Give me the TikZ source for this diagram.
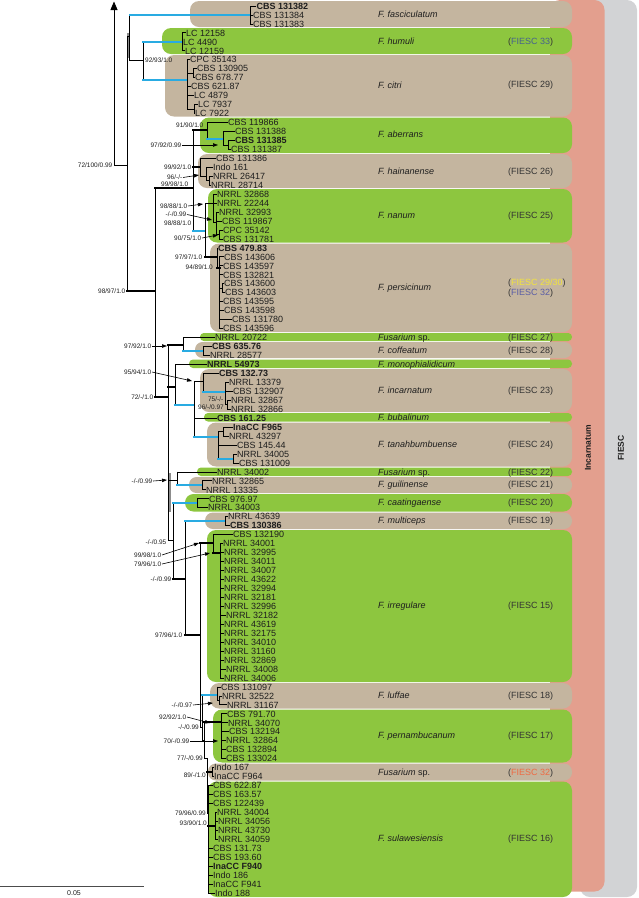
\documentclass[tikz,border=0pt]{standalone}
\usepackage{fontspec}
\setmainfont{Liberation Sans}
\usetikzlibrary{arrows.meta}
\definecolor{tanc}{HTML}{C4B59F}
\definecolor{grnc}{HTML}{8DC63F}
\definecolor{salm}{HTML}{E39F8E}
\definecolor{grayb}{HTML}{D2D3D5}
\definecolor{brb}{HTML}{29ABE2}
\definecolor{txt}{HTML}{1E1E1E}
\definecolor{fitxt}{HTML}{333333}
\definecolor{fblue}{HTML}{45618F}
\definecolor{fyel}{HTML}{F2E43C}
\definecolor{fpur}{HTML}{5A5DA6}
\definecolor{fora}{HTML}{EE6A43}
\newcommand{\tb}[3][]{\draw[brn] (#2) -- (#2 |- #3); \draw[brn,#1] (#2 |- #3) -- (#3);}
\newcommand{\spbox}[5]{\fill[#1,rounded corners=#5] (#2,#3) rectangle (572,#4);}
\begin{document}
\begin{tikzpicture}[x=1pt,y=-1pt,
  brn/.style={line width=0.8pt, black, line cap=rect},
  tkb/.style={line width=2pt},
  blb/.style={line width=2pt, brb},
  leafn/.style={anchor=west, inner sep=0.5pt, font=\fontsize{9}{9}\selectfont, text=txt, text height=6.4pt, text depth=0pt},
  supn/.style={anchor=east, inner sep=0.5pt, font=\fontsize{6.5}{6.5}\selectfont, text=txt, text height=4.6pt, text depth=0pt},
  spn/.style={anchor=west, inner sep=0pt, font=\fontsize{9}{9}\selectfont\itshape, text=txt, text height=6.4pt, text depth=0pt},
  fin/.style={anchor=west, inner sep=0pt, font=\fontsize{9}{9}\selectfont, text=fitxt, text height=6.4pt, text depth=0pt},
  arrn/.style={line width=0.6pt, black, -{Triangle[width=3.5pt,length=5pt]}},
]
\useasboundingbox (0,0) rectangle (638,898);
% bands
\fill[grayb, rounded corners=10] (580,0) rectangle (637,897);
\fill[salm, rounded corners=10] (550,0) rectangle (604.5,891.5);
\node[rotate=90, font=\fontsize{8.5}{8.5}\selectfont\bfseries, text=txt] (inc) at (588,448) {Incarnatum};
\node[rotate=90, font=\fontsize{8.5}{8.5}\selectfont\bfseries, text=txt] (fiesc) at (621,448) {FIESC};
% species boxes
\spbox{tanc}{190}{1}{27}{9}
\spbox{grnc}{162}{28}{54}{9}
\spbox{tanc}{165}{55}{116.5}{9}
\spbox{grnc}{200}{117.5}{153}{9}
\spbox{tanc}{198}{154}{188}{9}
\spbox{grnc}{208}{189}{242.5}{9}
\spbox{tanc}{210}{243.5}{332}{9}
\spbox{grnc}{200}{333}{341}{3.8}
\spbox{tanc}{195}{342}{358}{7.5}
\spbox{grnc}{189}{359.5}{368}{4}
\spbox{tanc}{200}{369}{412}{9}
\spbox{grnc}{204}{413}{421.5}{4}
\spbox{tanc}{207}{422.5}{466.5}{9}
\spbox{grnc}{197}{467.5}{476}{4}
\spbox{tanc}{189}{477}{493}{7.5}
\spbox{grnc}{185}{494}{511.5}{8.5}
\spbox{tanc}{205}{512.5}{529}{8}
\spbox{grnc}{207}{530}{682}{9}
\spbox{tanc}{210}{683}{708.5}{9}
\spbox{grnc}{213}{709.5}{762.5}{9}
\spbox{tanc}{208}{763.5}{780.5}{8}
\spbox{grnc}{208}{781.5}{897}{9}
% species labels
\node[spn] (sp1) at (378,14) {F. fasciculatum};
\node[spn] (sp2) at (378,41) {F. humuli};
\node[spn] (sp3) at (378,85) {F. citri};
\node[spn] (sp4) at (378,134) {F. aberrans};
\node[spn] (sp5) at (378,171) {F. hainanense};
\node[spn] (sp6) at (378,215) {F. nanum};
\node[spn] (sp7) at (378,287) {F. persicinum};
\node[spn] (sp8) at (378,337) {Fusarium \textup{sp.}};
\node[spn] (sp9) at (378,350) {F. coffeatum};
\node[spn] (sp10) at (378,364) {F. monophialidicum};
\node[spn] (sp11) at (378,390) {F. incarnatum};
\node[spn] (sp12) at (378,417) {F. bubalinum};
\node[spn] (sp13) at (378,444) {F. tanahbumbuense};
\node[spn] (sp14) at (378,472) {Fusarium \textup{sp.}};
\node[spn] (sp15) at (378,484.5) {F. guilinense};
\node[spn] (sp16) at (378,502) {F. caatingaense};
\node[spn] (sp17) at (378,520) {F. multiceps};
\node[spn] (sp18) at (378,605) {F. irregulare};
\node[spn] (sp19) at (378,695) {F. luffae};
\node[spn] (sp20) at (378,735) {F. pernambucanum};
\node[spn] (sp21) at (378,772) {Fusarium \textup{sp.}};
\node[spn] (sp22) at (378,838) {F. sulawesiensis};
% FIESC labels
\node[fin] (fi2) at (508,41) {(\textcolor{fblue}{FIESC 33})};
\node[fin] (fi3) at (508,84) {(FIESC 29)};
\node[fin] (fi5) at (508,171) {(FIESC 26)};
\node[fin] (fi6) at (508,215) {(FIESC 25)};
\node[fin] (fi7a) at (508,282) {(\textcolor{fyel}{FIESC 29/30})};
\node[fin] (fi7b) at (508,292) {(\textcolor{fpur}{FIESC 32})};
\node[fin] (fi8) at (508,337) {(FIESC 27)};
\node[fin] (fi9) at (508,350) {(FIESC 28)};
\node[fin] (fi11) at (508,390) {(FIESC 23)};
\node[fin] (fi13) at (508,444) {(FIESC 24)};
\node[fin] (fi14) at (508,472) {(FIESC 22)};
\node[fin] (fi15) at (508,484.5) {(FIESC 21)};
\node[fin] (fi16) at (508,502) {(FIESC 20)};
\node[fin] (fi17) at (508,520) {(FIESC 19)};
\node[fin] (fi18) at (508,605) {(FIESC 15)};
\node[fin] (fi19) at (508,695) {(FIESC 18)};
\node[fin] (fi20) at (508,735) {(FIESC 17)};
\node[fin] (fi21) at (508,772) {(\textcolor{fora}{FIESC 32})};
\node[fin] (fi22) at (508,838) {(FIESC 16)};
% leaves
\foreach \i/\x/\t in {
1/256.5/{\textbf{CBS 131382}}, 2/253/{CBS 131384}, 3/253/{CBS 131383},
4/186/{LC 12158}, 5/183/{LC 4490}, 6/185/{LC 12159},
7/190/{CPC 35143}, 8/197/{CBS 130905}, 9/195/{CBS 678.77}, 10/191/{CBS 621.87},
11/194/{LC 4879}, 12/198/{LC 7937}, 13/195/{LC 7922},
14/228/{CBS 119866}, 15/235/{CBS 131388}, 16/235/{\textbf{CBS 131385}}, 17/231/{CBS 131387},
18/216/{CBS 131386}, 19/213/{Indo 161}, 20/213/{NRRL 26417}, 21/211/{NRRL 28714},
22/217/{NRRL 32868}, 23/217/{NRRL 22244}, 24/219/{NRRL 32993}, 25/222/{CBS 119867},
26/223/{CPC 35142}, 27/223/{CBS 131781},
28/218/{\textbf{CBS 479.83}}, 29/224/{CBS 143606}, 30/223/{CBS 143597}, 31/223/{CBS 132821},
32/224/{CBS 143600}, 33/225/{CBS 143603}, 34/223/{CBS 143595}, 35/224/{CBS 143598},
36/232/{CBS 131780}, 37/223/{CBS 143596},
38/215/{NRRL 20722}, 39/212/{\textbf{CBS 635.76}}, 40/210/{NRRL 28577},
41/207/{\textbf{NRRL 54973}}, 42/219/{\textbf{CBS 132.73}}, 43/229/{NRRL 13379},
44/233/{CBS 132907}, 45/231/{NRRL 32867}, 46/231/{NRRL 32866},
47/217/{\textbf{CBS 161.25}}, 48/233/{\textbf{InaCC F965}}, 49/229/{NRRL 43297},
50/237/{CBS 145.44}, 51/237/{NRRL 34005}, 52/239/{CBS 131009},
53/217/{NRRL 34002}, 54/212/{NRRL 32865}, 55/206/{NRRL 13335},
56/209/{CBS 976.97}, 57/208/{NRRL 34003}, 58/228/{NRRL 43639}, 59/230/{\textbf{CBS 130386}},
60/233/{CBS 132190}, 61/223/{NRRL 34001}, 62/224/{NRRL 32995}, 63/224/{NRRL 34011},
64/224/{NRRL 34007}, 65/224/{NRRL 43622}, 66/224/{NRRL 32994}, 67/224/{NRRL 32181},
68/224/{NRRL 32996}, 69/226/{NRRL 32182}, 70/224/{NRRL 43619}, 71/224/{NRRL 32175},
72/224/{NRRL 34010}, 73/224/{NRRL 31160}, 74/224/{NRRL 32869}, 75/226/{NRRL 34008},
76/224/{NRRL 34006}, 77/221/{CBS 131097}, 78/222/{NRRL 32522}, 79/227/{NRRL 31167},
80/227/{CBS 791.70}, 81/228/{NRRL 34070}, 82/229/{CBS 132194}, 83/226/{NRRL 32864},
84/226/{CBS 132894}, 85/226/{CBS 133024}, 86/214/{Indo 167}, 87/214/{InaCC F964},
88/213/{CBS 622.87}, 89/213/{CBS 163.57}, 90/213/{CBS 122439}, 91/217/{NRRL 34004},
92/218/{NRRL 34056}, 93/218/{NRRL 43730}, 94/218/{NRRL 34059}, 95/213/{CBS 131.73},
96/213/{CBS 193.60}, 97/213/{\textbf{InaCC F940}}, 98/213/{Indo 186}, 99/213/{InaCC F941},
100/215/{Indo 188}}
{\node[leafn] (l\i) at (\x-0.5,{6+(\i-1)*8.96}) {\t};}
% internal nodes
\coordinate (rt) at (114,165); \coordinate (atip) at (114,1.5); \coordinate (R) at (127,165);
\coordinate (A) at (129.5,36); \coordinate (nF) at (250,15); \coordinate (HC) at (143,60);
\coordinate (nHu) at (182,41.8); \coordinate (nCi) at (187,80); \coordinate (nC1) at (193,73.2); \coordinate (nC2) at (194,109);
\coordinate (B) at (155,291); \coordinate (C) at (193,188);
\coordinate (nAb) at (207,130); \coordinate (nAb1) at (223,139); \coordinate (nAb2) at (228,144.9);
\coordinate (nH) at (200,167); \coordinate (nH1) at (206,176); \coordinate (nH2) at (209,180.7);
\coordinate (nNP) at (205,231); \coordinate (nN) at (213,203); \coordinate (nN1) at (216,222); \coordinate (nN2) at (219.5,234.5);
\coordinate (nP) at (217,257); \coordinate (nP1) at (219.5,268); \coordinate (nP2) at (222,288.2);
\coordinate (D) at (168,397); \coordinate (Q) at (183,345); \coordinate (nCof) at (203,351);
\coordinate (Rn) at (175,387); \coordinate (S) at (194,405); \coordinate (nI) at (203,381);
\coordinate (nI1) at (225,392); \coordinate (nI2) at (227.5,404.7);
\coordinate (nT) at (218,437); \coordinate (nT1) at (223,431.6); \coordinate (nT2) at (233,458.5);
\coordinate (V) at (177,480); \coordinate (nG) at (202,485.4); \coordinate (W) at (173,540);
\coordinate (nCa) at (197,503.3); \coordinate (E) at (185,579); \coordinate (nMu) at (225,521.2);
\coordinate (F) at (200,635); \coordinate (nIr) at (213,543); \coordinate (nIr1) at (220,553);
\coordinate (F2) at (202,727); \coordinate (nLu) at (217,695); \coordinate (nLu1) at (219,700.4);
\coordinate (F3) at (204,740); \coordinate (nPe) at (221,722); \coordinate (F4) at (207,758);
\coordinate (nFs) at (212,772); \coordinate (nSu) at (208,813); \coordinate (nSu1) at (215,825.8);
% gray overlays
\draw[black!45, line width=2.4pt] (128,33) -- (128,58);
\draw[black!45, line width=1.6pt] (170,473) -- (170,512);
% edges
\draw[brn] (rt) -- (R);
\draw[brn, -{Triangle[width=7pt,length=8.5pt]}] (rt) -- (atip);
\tb{R}{A} \tb[tkb]{R}{B}
\tb[blb]{A}{nF} \tb{A}{HC}
\foreach \c in {1,2,3} {\tb{nF}{l\c.west}}
\tb[blb]{HC}{nHu} \tb[blb]{HC}{nCi}
\foreach \c in {4,5,6} {\tb{nHu}{l\c.west}}
\tb{nCi}{l7.west} \tb{nCi}{nC1} \tb{nCi}{l10.west} \tb{nCi}{l11.west} \tb{nCi}{nC2}
\tb{nC1}{l8.west} \tb{nC1}{l9.west} \tb{nC2}{l12.west} \tb{nC2}{l13.west}
\tb[tkb]{B}{C} \tb[tkb]{B}{D}
\tb[tkb]{C}{nAb} \tb[tkb]{C}{nH} \tb[blb]{C}{nNP}
\tb{nAb}{l14.west} \tb[blb]{nAb}{nAb1} \tb{nAb1}{l15.west} \tb{nAb1}{nAb2} \tb{nAb2}{l16.west} \tb{nAb2}{l17.west}
\tb{nH}{l18.west} \tb{nH}{nH1} \tb{nH1}{l19.west} \tb{nH1}{nH2} \tb{nH2}{l20.west} \tb{nH2}{l21.west}
\tb{nNP}{nN} \tb[tkb]{nNP}{nP}
\tb{nN}{l22.west} \tb{nN}{l23.west} \tb{nN}{nN1} \tb{nN1}{l24.west} \tb{nN1}{l25.west} \tb{nN1}{nN2} \tb{nN2}{l26.west} \tb{nN2}{l27.west}
\tb{nP}{l28.west} \tb[tkb]{nP}{nP1}
\foreach \c in {29,30,31,34,35,36,37} {\tb{nP1}{l\c.west}}
\tb{nP1}{nP2} \tb{nP2}{l32.west} \tb{nP2}{l33.west}
\tb[tkb]{D}{Q} \tb[tkb]{D}{Rn} \tb{D}{V} \tb{D}{W}
\tb{Q}{l38.west} \tb[blb]{Q}{nCof} \tb{nCof}{l39.west} \tb{nCof}{l40.west}
\tb{Rn}{l41.west} \tb[blb]{Rn}{S}
\tb{S}{nI} \tb{S}{l47.west} \tb[blb]{S}{nT}
\tb{nI}{l42.west} \tb[blb]{nI}{nI1} \tb{nI1}{l43.west} \tb{nI1}{l44.west} \tb{nI1}{nI2} \tb{nI2}{l45.west} \tb{nI2}{l46.west}
\tb{nT}{nT1} \tb{nT}{l50.west} \tb[blb]{nT}{nT2} \tb{nT1}{l48.west} \tb{nT1}{l49.west} \tb{nT2}{l51.west} \tb{nT2}{l52.west}
\tb{V}{l53.west} \tb[blb]{V}{nG} \tb{nG}{l54.west} \tb{nG}{l55.west}
\tb[blb]{W}{nCa} \tb[tkb]{W}{E} \tb{nCa}{l56.west} \tb{nCa}{l57.west}
\tb[blb]{E}{nMu} \tb[tkb]{E}{F} \tb{nMu}{l58.west} \tb{nMu}{l59.west}
\tb[tkb]{F}{nIr} \tb{F}{F2}
\tb{nIr}{l60.west} \tb[tkb]{nIr}{nIr1}
\foreach \c in {61,...,76} {\tb{nIr1}{l\c.west}}
\tb[blb]{F2}{nLu} \tb{F2}{F3} \tb{nLu}{l77.west} \tb{nLu}{nLu1} \tb{nLu1}{l78.west} \tb{nLu1}{l79.west}
\tb[tkb]{F3}{nPe} \tb{F3}{F4}
\foreach \c in {80,...,85} {\tb{nPe}{l\c.west}}
\tb[tkb]{F4}{nFs} \tb{F4}{nSu} \tb{nFs}{l86.west} \tb{nFs}{l87.west}
\foreach \c in {88,89,90,95,96,97,98,99,100} {\tb{nSu}{l\c.west}}
\tb[tkb]{nSu}{nSu1}
\foreach \c in {91,92,93,94} {\tb{nSu1}{l\c.west}}
% support values
\node[supn, anchor=west] (s1) at (144.5,60) {92/93/1.0};
\node[supn] (s2) at (204,125.5) {91/90/1.0};
\node[supn] (s3) at (182,145) {97/92/0.99};
\node[supn] (s4) at (113,165) {72/100/0.99};
\node[supn] (s5) at (192,167) {99/92/1.0};
\node[supn] (s6) at (183,177.5) {96/-/-};
\node[supn] (s7) at (189,184.5) {99/98/1.0};
\node[supn] (s8) at (188,206) {98/88/1.0};
\node[supn] (s9) at (187,214.5) {-/-/0.99};
\node[supn] (s10) at (192,223.5) {98/88/1.0};
\node[supn] (s11) at (202,238) {90/75/1.0};
\node[supn] (s12) at (203,257.5) {97/97/1.0};
\node[supn] (s13) at (213.5,267) {94/89/1.0};
\node[supn] (s14) at (126,291) {98/97/1.0};
\node[supn] (s15) at (152,346) {97/92/1.0};
\node[supn] (s16) at (152,372) {95/94/1.0};
\node[supn] (s17) at (154,397) {72/-/1.0};
\node[supn] (s18) at (224,399) {75/-/-};
\node[supn] (s19) at (224.5,407.5) {96/-/0.97};
\node[supn] (s20) at (153,481) {-/-/0.99};
\node[supn] (s21) at (167,542) {-/-/0.95};
\node[supn] (s22) at (162,555) {99/98/1.0};
\node[supn] (s23) at (162,564) {79/96/1.0};
\node[supn] (s24) at (172,579) {-/-/0.99};
\node[supn] (s25) at (183,635) {97/96/1.0};
\node[supn] (s26) at (193,705) {-/-/0.97};
\node[supn] (s27) at (187,717) {92/92/1.0};
\node[supn] (s28) at (199.5,727) {-/-/0.99};
\node[supn] (s29) at (190,741) {70/-/0.99};
\node[supn] (s30) at (203.5,758) {77/-/0.99};
\node[supn] (s31) at (206.5,775) {89/-/1.0};
\node[supn] (s32) at (206.5,813) {79/96/0.99};
\node[supn] (s33) at (207.5,823) {93/90/1.0};
% arrow targets
\coordinate (t3) at (218,145); \coordinate (t6) at (199,175); \coordinate (t8) at (203,204);
\coordinate (t9) at (212,220); \coordinate (t11) at (218,235); \coordinate (t15) at (167,346);
\coordinate (t16) at (192,381); \coordinate (t20) at (167,480); \coordinate (t22) at (199,543);
\coordinate (t23) at (210,553); \coordinate (t26) at (213,703); \coordinate (t27) at (210,723);
\coordinate (t29) at (218,741);
\draw[arrn] (s3.east) -- (t3);
\draw[arrn] (s6.east) -- (t6);
\draw[arrn] (s8.east) -- (t8);
\draw[arrn] (s9.east) -- (t9);
\draw[arrn] (s11.east) -- (t11);
\draw[arrn] (s15.east) -- (t15);
\draw[arrn] (s16.east) -- (t16);
\draw[arrn] (s20.east) -- (t20);
\draw[arrn] (s22.east) -- (t22);
\draw[arrn] (s23.east) -- (t23);
\draw[arrn] (s26.east) -- (t26);
\draw[arrn] (s27.east) -- (t27);
\draw[arrn] (s29.east) -- (t29);
% scale bar
\coordinate (sb1) at (0,886.5); \coordinate (sb2) at (144,886.5);
\draw[line width=0.9pt, black!70] (sb1) -- (sb2);
\node[font=\fontsize{7}{7}\selectfont, text=txt, inner sep=0pt] (sbl) at (74,893.5) {0.05};
\end{tikzpicture}
\end{document}
